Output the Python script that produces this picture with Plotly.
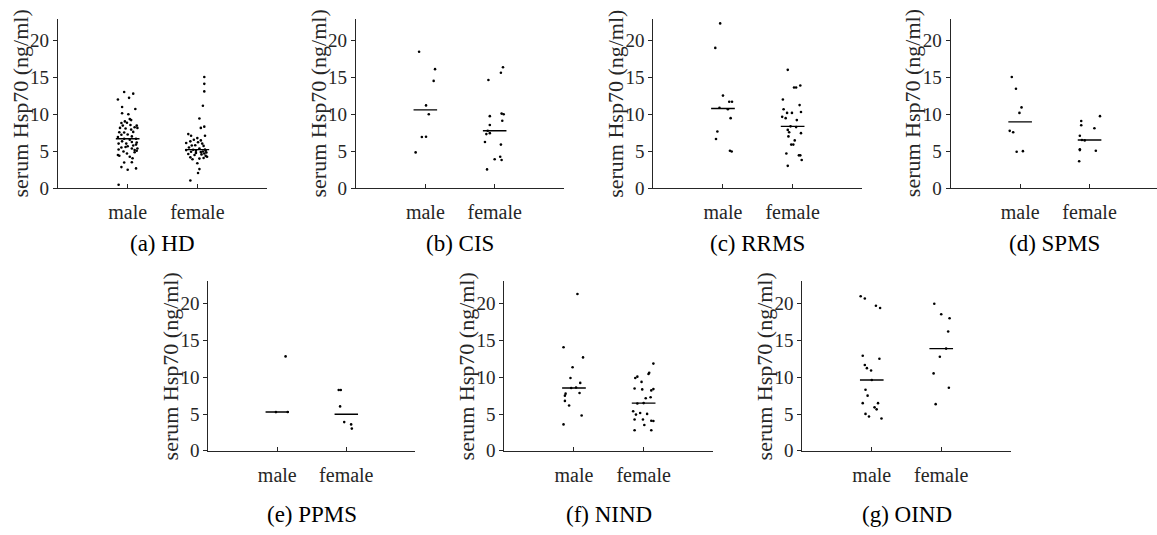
import numpy as np
import plotly.graph_objects as go

# ---------------- data ----------------
panel_names = ["HD", "CIS", "RRMS", "SPMS", "PPMS", "NIND", "OIND"]
panel_captions = ["(a) HD", "(b) CIS", "(c) RRMS", "(d) SPMS", "(e) PPMS", "(f) NIND", "(g) OIND"]
sex_labels = ["male", "female"]
y_tick_values = [0, 5, 10, 15, 20]
y_axis_title = "serum Hsp70 (ng/ml)"

HD_male = [13.05, 12.83, 12.04, 12.26, 11.02, 10.75, 10.18, 10.04, 9.38, 9.25, 9.07, 8.85, 8.89,
           8.50, 8.50, 8.58, 8.19, 8.19, 8.10, 7.96, 8.27, 7.61, 7.57, 7.65, 7.26, 7.30, 7.04, 6.95,
           6.73, 6.59, 6.73, 6.37, 6.28, 6.06, 6.06, 5.93, 5.71, 5.53, 5.40, 5.40, 5.27, 5.18, 5.09,
           4.73, 4.51, 4.42, 4.29, 4.07, 3.50, 3.54, 2.88, 2.52, 2.70, 0.49, 5.80, 5.00, 4.90, 6.20, 5.60]
HD_male_jitter = [-0.05, 0.08, -0.14, 0.02, -0.08, 0.11, -0.08, 0.01, 0.03, 0.05, -0.04, -0.09, -0.01,
                  0.13, -0.07, 0.04, 0.14, -0.11, -0.03, 0.05, 0.10, -0.12, -0.05, 0.08, -0.09, 0.00, 0.06, -0.14,
                  -0.05, 0.03, 0.12, -0.08, 0.06, -0.02, -0.13, 0.12, 0.00, -0.09, 0.06, 0.14, -0.13, 0.10, 0.13,
                  -0.01, -0.14, -0.12, 0.03, 0.07, -0.05, 0.06, -0.09, 0.00, 0.12, -0.13, 0.08, -0.06, 0.10, 0.13, -0.03]
HD_female = [15.09, 14.16, 13.14, 11.19, 9.47, 8.19, 8.36, 7.35, 7.12, 7.12, 6.81, 6.59, 6.50, 6.37,
             6.24, 6.15, 6.06, 5.80, 5.84, 5.75, 5.53, 5.40, 5.27, 5.22, 5.18, 5.09, 4.96, 4.91, 4.73,
             4.65, 4.51, 4.29, 4.12, 4.03, 3.94, 3.41, 2.61, 2.08, 1.06, 4.40, 4.80, 5.00, 4.60, 4.85, 5.10, 4.20]
HD_female_jitter = [0.10, 0.10, 0.10, 0.08, 0.03, 0.05, 0.10, -0.13, -0.09, 0.11, 0.00, -0.05, 0.05, -0.10,
                    0.01, -0.16, 0.07, -0.08, -0.03, 0.09, -0.12, 0.03, 0.11, -0.06, -0.16, -0.02, -0.09, 0.05, 0.10,
                    -0.13, -0.04, 0.14, 0.09, 0.03, -0.07, 0.00, 0.03, 0.01, -0.10, 0.12, -0.02, 0.08, 0.06, 0.13, 0.12, -0.10]

CIS_male = [18.5, 16.15, 14.56, 11.24, 10.04, 6.99, 6.95, 4.87]
CIS_male_jitter = [-0.09, 0.14, 0.12, 0.01, 0.05, 0.01, -0.05, -0.14]
CIS_female = [16.4, 15.66, 14.69, 10.13, 10.04, 9.78, 9.16, 8.58, 7.8, 7.48, 7.35, 6.28, 5.93, 4.29, 3.94, 3.85, 2.57]
CIS_female_jitter = [0.12, 0.09, -0.09, 0.10, 0.13, -0.07, 0.11, -0.07, -0.10, -0.07, -0.12, -0.14, 0.09, 0.08, 0.00, 0.10, -0.11]

RRMS_male = [22.35, 19.03, 12.57, 11.73, 11.73, 10.93, 10.71, 9.51, 7.70, 6.68, 5.09, 5.00]
RRMS_male_jitter = [-0.04, -0.11, 0.00, 0.09, 0.13, -0.05, 0.07, 0.11, -0.08, -0.10, 0.10, 0.125]
RRMS_female = [16.06, 13.94, 13.67, 13.67, 12.04, 11.28, 10.71, 10.35, 10.22, 10.22, 9.69, 9.51, 9.25,
               8.40, 8.30, 7.92, 7.61, 7.48, 7.04, 6.50, 5.93, 5.93, 4.73, 4.47, 4.47, 3.85, 3.05]
RRMS_female_jitter = [-0.07, 0.11, 0.02, 0.05, -0.14, 0.10, -0.13, 0.12, -0.08, -0.01, -0.15, -0.10, 0.06,
                      -0.03, 0.05, -0.07, -0.05, 0.12, -0.06, 0.03, -0.02, 0.01, -0.09, 0.09, 0.11, 0.13, -0.07]

SPMS_male = [15.09, 13.5, 10.97, 10.22, 7.79, 7.61, 5.04, 4.96]
SPMS_male_jitter = [-0.12, -0.06, 0.02, -0.01, -0.15, -0.10, 0.04, -0.05]
SPMS_female = [9.78, 9.12, 8.54, 8.14, 7.12, 6.55, 6.50, 5.30, 5.18, 5.09, 3.67]
SPMS_female_jitter = [0.15, -0.12, -0.12, 0.07, -0.14, -0.11, -0.07, -0.14, -0.14, 0.09, -0.15]

PPMS_male = [12.82, 5.28, 5.26]
PPMS_male_jitter = [0.12, 0.15, -0.02]
PPMS_female = [8.25, 8.25, 6.03, 3.90, 3.59, 3.02]
PPMS_female_jitter = [-0.11, -0.08, -0.09, -0.03, 0.07, 0.08]

NIND_male = [21.29, 14.06, 12.68, 11.35, 9.89, 9.22, 8.60, 8.52, 7.85, 7.76, 7.49, 6.78, 6.16, 4.79, 3.59]
NIND_male_jitter = [0.05, -0.15, 0.13, -0.02, -0.05, 0.09, 0.03, -0.04, 0.08, -0.12, -0.13, -0.13, -0.07, 0.11, -0.15]
NIND_female = [11.84, 10.6, 10.42, 10.07, 9.89, 9.36, 8.47, 8.38, 8.34, 8.2, 7.27, 7.14, 6.48, 6.43,
               5.37, 5.14, 5.01, 4.92, 4.26, 4.26, 4.08, 4.04, 3.5, 2.79, 2.79]
NIND_female_jitter = [0.14, 0.08, 0.07, -0.09, -0.12, -0.03, -0.13, 0.14, -0.02, 0.11, 0.10, 0.03, 0.00, -0.09,
                      -0.15, -0.05, 0.05, -0.11, -0.13, -0.01, 0.11, 0.14, 0.01, -0.13, 0.11]

OIND_male = [20.98, 20.67, 19.69, 19.38, 12.9, 12.5, 11.66, 11.22, 10.91, 9.62, 8.29, 7.49, 6.47, 6.47,
             5.9, 5.63, 5.01, 4.66, 4.39]
OIND_male_jitter = [-0.16, -0.10, 0.06, 0.12, -0.13, 0.11, -0.10, -0.07, -0.01, 0.00, -0.09, -0.06, -0.13, 0.09,
                    0.04, 0.07, -0.09, -0.04, 0.14]
OIND_female = [19.96, 18.54, 18.0, 16.19, 13.88, 12.77, 10.51, 8.56, 6.34]
OIND_female_jitter = [-0.10, 0.00, 0.12, 0.10, 0.07, -0.02, -0.11, 0.11, -0.08]

groups_male = [HD_male, CIS_male, RRMS_male, SPMS_male, PPMS_male, NIND_male, OIND_male]
groups_male_jitter = [HD_male_jitter, CIS_male_jitter, RRMS_male_jitter, SPMS_male_jitter,
                      PPMS_male_jitter, NIND_male_jitter, OIND_male_jitter]
groups_female = [HD_female, CIS_female, RRMS_female, SPMS_female, PPMS_female, NIND_female, OIND_female]
groups_female_jitter = [HD_female_jitter, CIS_female_jitter, RRMS_female_jitter, SPMS_female_jitter,
                        PPMS_female_jitter, NIND_female_jitter, OIND_female_jitter]

# ---------------- layout geometry (pixels of the 1157x535 canvas) ----------------
W, H = 1157, 535
# (left, right, top, bottom) of each axes box
boxes = [
    (58, 267, 19, 192.3), (356, 564, 19, 192.3), (653.3, 862.3, 19, 192.3), (950.7, 1159, 19, 192.3),
    (208.3, 415.3, 287.3, 460.3), (504.3, 713.3, 287.3, 460.3), (802.3, 1010.7, 287.3, 460.3),
]
AX = "#262626"
FONT = "Liberation Serif, Times New Roman, Times, serif"
half_len = 0.17

fig = go.Figure()
layout = dict(
    width=W, height=H, margin=dict(l=0, r=0, t=0, b=0),
    paper_bgcolor="white", plot_bgcolor="white", showlegend=False,
    font=dict(family=FONT, color=AX),
)
annotations = []

for i, name in enumerate(panel_names):
    k = "" if i == 0 else str(i + 1)
    l, r, t, b = boxes[i]
    rr = min(r, W)
    xd = [l / W, rr / W]
    yd = [1 - b / H, 1 - t / H]
    x_max = 3.0 * (rr - l) / (r - l)
    layout["xaxis" + k] = dict(
        domain=xd, anchor="y" + k, range=[0, x_max],
        tickvals=[1, 2], ticktext=sex_labels, ticks="inside", ticklen=4, tickcolor=AX,
        ticklabelstandoff=6,
        showline=True, linecolor=AX, linewidth=1.2, showgrid=False, zeroline=False,
        tickfont=dict(family=FONT, size=20, color=AX), fixedrange=True,
    )
    layout["yaxis" + k] = dict(
        domain=yd, anchor="x" + k, range=[0, 23],
        tickvals=y_tick_values, ticks="outside", ticklen=4, tickcolor=AX,
        showline=True, linecolor=AX, linewidth=1.2, showgrid=False, zeroline=False,
        tickfont=dict(family=FONT, size=19, color=AX), fixedrange=True,
    )
    for c, (vals, jit) in enumerate([(groups_male[i], groups_male_jitter[i]),
                                     (groups_female[i], groups_female_jitter[i])]):
        center = c + 1
        fig.add_trace(go.Scatter(
            x=[center + j for j in jit], y=vals, mode="markers",
            marker=dict(color="black", size=2.6, line=dict(width=0)),
            xaxis="x" + k, yaxis="y" + k, hoverinfo="y",
        ))
        med = float(np.median(vals))
        fig.add_trace(go.Scatter(
            x=[center - half_len, center + half_len], y=[med, med], mode="lines",
            line=dict(color="black", width=1.4),
            xaxis="x" + k, yaxis="y" + k, hoverinfo="skip",
        ))
    # y-axis title
    annotations.append(dict(
        text=y_axis_title, textangle=-90, xref="paper", yref="paper",
        x=(l - 38) / W, y=(yd[0] + yd[1]) / 2, xanchor="center", yanchor="middle",
        showarrow=False, font=dict(family=FONT, size=22, color=AX),
    ))
    # caption
    cap_y = 249 if t < 100 else 525
    annotations.append(dict(
        text=panel_captions[i], xref="paper", yref="paper",
        x=((l + r) / 2) / W, y=1 - cap_y / H, xanchor="center", yanchor="middle",
        showarrow=False, font=dict(family=FONT, size=23, color="black"),
    ))

layout["annotations"] = annotations
fig.update_layout(**layout)
fig.write_html("out.html")
